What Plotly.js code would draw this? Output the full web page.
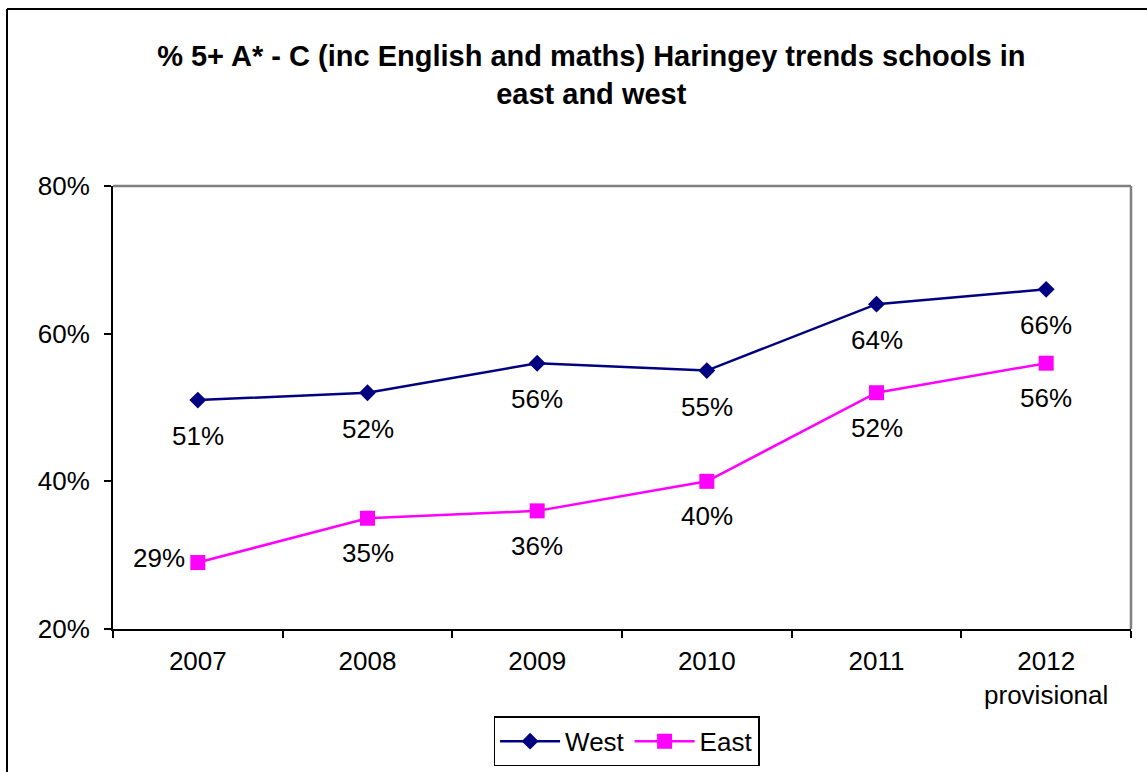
<!DOCTYPE html>
<html>
<head>
<meta charset="utf-8">
<script src="https://cdn.plot.ly/plotly-3.0.1.min.js"></script>
<style>
  html, body { margin: 0; padding: 0; background: #ffffff; }
  #chart { width: 1147px; height: 772px; }
</style>
</head>
<body>
<div id="chart"></div>
<script>
const categories = ["2007", "2008", "2009", "2010", "2011", "2012<br>provisional"];
const westValues = [51, 52, 56, 55, 64, 66];
const eastValues = [29, 35, 36, 40, 52, 56];
const yTickValues = [20, 40, 60, 80];
const yTickLabels = ["20%", "40%", "60%", "80%"];
const titleText = "% 5+ A* - C (inc English and maths) Haringey trends schools in<br>east and west";

const FONT = "Liberation Sans, Arial, sans-serif";
const LABEL_SIZE = 26;

const traces = [
  {
    x: categories, y: westValues, name: "West", type: "scatter", mode: "lines+markers",
    line: { color: "#000080", width: 2.5 },
    marker: { symbol: "diamond", size: 13, color: "#000080" }
  },
  {
    x: categories, y: eastValues, name: "East", type: "scatter", mode: "lines+markers",
    line: { color: "#FF00FF", width: 2.5 },
    marker: { symbol: "square", size: 15, color: "#FF00FF" }
  }
];

const annotations = [];
westValues.forEach((v, i) => {
  annotations.push({ x: i, y: v, xref: "x", yref: "y", text: v + "%", showarrow: false,
    yshift: -36, font: { family: FONT, size: LABEL_SIZE, color: "#000" } });
});
eastValues.forEach((v, i) => {
  if (i === 0) {
    annotations.push({ x: i, y: v, xref: "x", yref: "y", text: v + "%", showarrow: false,
      xanchor: "right", xshift: -11, yshift: 5, font: { family: FONT, size: LABEL_SIZE, color: "#000" } });
  } else {
    annotations.push({ x: i, y: v, xref: "x", yref: "y", text: v + "%", showarrow: false,
      yshift: -35, font: { family: FONT, size: LABEL_SIZE, color: "#000" } });
  }
});

const layout = {
  width: 1147, height: 772,
  margin: { l: 113, r: 16, t: 186, b: 143, pad: 0, autoexpand: false },
  paper_bgcolor: "#ffffff", plot_bgcolor: "#ffffff",
  font: { family: FONT, size: LABEL_SIZE, color: "#000" },
  title: {
    text: titleText, xref: "container", x: 0.5155, xanchor: "center",
    yref: "container", y: 1 - 66 / 772, yanchor: "middle",
    font: { family: FONT, size: 29, color: "#000", weight: "bold" }
  },
  xaxis: {
    type: "category", showgrid: false, zeroline: false, automargin: false,
    showline: true, linecolor: "#000", linewidth: 2,
    ticks: "outside", tickson: "boundaries", ticklen: 7, tickwidth: 2, tickcolor: "#000",
    tickfont: { family: FONT, size: LABEL_SIZE, color: "#000" },
    ticklabelstandoff: 8,
    range: [-0.5, 5.5]
  },
  yaxis: {
    range: [20, 80], tickvals: yTickValues, ticktext: yTickLabels,
    showgrid: false, zeroline: false, automargin: false,
    showline: true, linecolor: "#000", linewidth: 2,
    ticks: "outside", ticklen: 7, tickwidth: 2, tickcolor: "#000",
    tickfont: { family: FONT, size: LABEL_SIZE, color: "#000" },
    ticklabelstandoff: 9
  },
  showlegend: true,
  legend: {
    orientation: "h", x: 0.5045, xanchor: "center", y: -0.197, yanchor: "top",
    bordercolor: "#000", borderwidth: 1.5, bgcolor: "#ffffff",
    font: { family: FONT, size: LABEL_SIZE, color: "#000" },
    itemwidth: 60
  },
  annotations: annotations,
  shapes: [
    { type: "line", xref: "paper", yref: "paper", x0: 0, x1: 1, y0: 1, y1: 1,
      line: { color: "#808080", width: 2.5 } },
    { type: "line", xref: "paper", yref: "paper", x0: 1, x1: 1, y0: 0, y1: 1,
      line: { color: "#808080", width: 2.5 } },
    { type: "line", xref: "paper", yref: "paper",
      x0: (7 - 113) / 1018, x1: (1200 - 113) / 1018, y0: (629 - 9) / 443, y1: (629 - 9) / 443,
      line: { color: "#000", width: 2 } },
    { type: "line", xref: "paper", yref: "paper",
      x0: (7 - 113) / 1018, x1: (7 - 113) / 1018, y0: (629 - 9) / 443, y1: (629 - 800) / 443,
      line: { color: "#000", width: 2 } }
  ]
};

Plotly.newPlot("chart", traces, layout, { displayModeBar: false, staticPlot: true });
</script>
</body>
</html>
